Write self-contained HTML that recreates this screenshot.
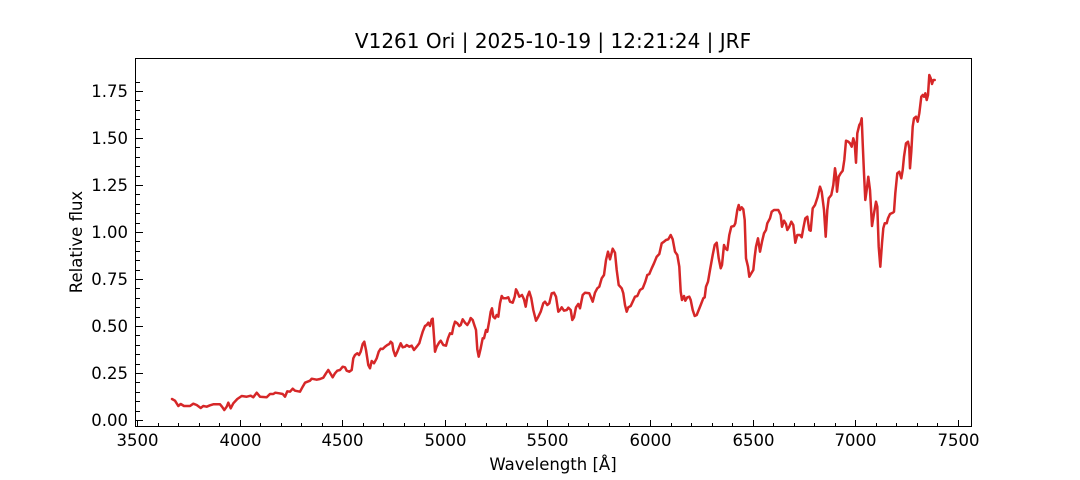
<!DOCTYPE html>
<html><head><meta charset="utf-8"><style>
html,body{margin:0;padding:0;background:#fff;}
svg{display:block;font-family:"DejaVu Sans","Liberation Sans",sans-serif;}
</style></head><body>
<svg id="s" width="1080" height="480" viewBox="0 0 1080 480" xmlns="http://www.w3.org/2000/svg">
<rect width="1080" height="480" fill="#fff"/>
<text x="553" y="48" font-size="20" text-anchor="middle" fill="#000">V1261 Ori | 2025-10-19 | 12:21:24 | JRF</text>
<g id="ticks" stroke="#000" stroke-width="1"></g>
<g id="labels" font-size="16.5" fill="#000"></g>
<text x="553" y="470" font-size="16.5" text-anchor="middle">Wavelength [Å]</text>
<text transform="translate(82,242) rotate(-90)" font-size="16.5" text-anchor="middle">Relative flux</text>
<polyline id="line" fill="none" stroke="#d62728" stroke-width="2.5" stroke-linejoin="round" stroke-linecap="round" points=""/>
<rect x="135.5" y="58.5" width="836" height="368" fill="none" stroke="#000" stroke-width="1"/>
</svg>
<script>
const z1=[[36,447],[45,452],[55,468],[62,462],[72,468],[90,468],[100,461],[110,465],[122,474],[130,468],[140,470],[150,466],[160,463],[180,463],[186,470],[193,480],[200,470],[205,458],[212,475],[220,460],[232,447],[245,438],[260,440],[272,437],[280,442],[290,428],[300,440],[320,442],[330,432],[340,432],[346,428],[358,430],[368,432],[375,440],[382,424],[390,425],[398,416],[405,422],[420,425],[428,410],[435,398],[450,392],[455,386],[470,389],[480,387],[490,383],[498,370],[505,360],[512,372],[518,382],[525,370],[532,362],[540,360],[548,350],[555,352],[560,362],[568,365],[575,360],[580,325],[585,315],[592,310],[597,315],[602,305],[608,282],[613,275],[618,300],[625,345],[630,355],[635,333],[642,340],[650,325],[656,305],[662,296],[668,297],[675,290],[682,285],[688,282],[692,275],[697,280],[700,300],[706,318],[712,305],[718,290],[722,280],[728,292],[735,290],[740,285],[748,290],[755,287],[762,300],[770,290],[778,280],[782,265],[788,245],[795,228],[800,225],[805,218],[810,228],[815,208],[818,206],[822,260],[825,305],[830,290],[838,277],[842,272],[850,285],[858,287],[864,265],[870,250],[876,252],[880,232],[885,215],[892,220],[898,228],[902,225],[908,208],[915,218],[922,225],[928,215],[932,204],[938,210],[943,225],[948,240],[952,298],[956,320],[962,295],[968,265],[972,265],[978,240],[982,245],[988,212],[992,185],[996,175],[1000,200],[1005,205],[1010,195],[1015,200],[1020,160],[1025,138],[1030,145],[1038,145],[1045,142],[1050,155],[1058,158],[1064,140],[1068,118],[1072,125],[1078,140],[1086,135],[1092,148],[1097,170],[1102,140],[1108,125],[1114,145],[1120,180],[1128,212],[1135,200],[1142,185],[1150,160],[1155,155],[1162,165],[1168,160],[1175,130],[1182,128],[1188,140],[1195,185],[1200,180]];
const z2=[[65,382],[72,392],[80,390],[85,383],[92,390],[97,420],[102,412],[108,382],[115,372],[120,385],[128,345],[135,338],[148,340],[158,365],[165,338],[172,325],[178,320],[185,295],[192,285],[198,240],[204,215],[210,238],[218,206],[225,218],[230,270],[236,315],[245,325],[250,340],[255,375],[260,395],[265,382],[272,378],[278,365],[285,350],[292,348],[300,330],[308,325],[316,305],[322,285],[328,282],[335,265],[342,250],[350,230],[358,222],[365,190],[372,185],[378,180],[385,178],[392,165],[398,178],[405,215],[412,225],[418,260],[422,335],[426,360],[432,348],[436,362],[442,352],[448,350],[452,360],[458,390],[464,408],[470,405],[476,390],[482,375],[490,355],[494,352],[498,320],[504,305],[510,270],[518,225],[524,195],[530,188],[536,235],[542,265],[546,255],[552,195],[556,205],[562,210],[568,165],[574,140],[582,138],[586,130],[592,90],[596,75],[600,90],[605,82],[610,88],[614,120],[618,235],[624,260],[628,290],[634,280],[640,270],[644,230],[648,200],[654,175],[660,215],[666,185],[672,160],[678,150],[682,130],[690,115]];
const z3=[[65,455],[72,450],[85,450],[92,465],[96,500],[102,482],[108,492],[112,510],[118,500],[124,485],[130,495],[136,548],[142,525],[150,525],[155,532],[160,505],[166,475],[172,470],[178,510],[182,512],[188,445],[195,435],[203,410],[210,380],[215,395],[222,450],[227,530],[232,450],[236,415],[244,405],[250,375],[255,325],[258,345],[261,395],[266,350],[272,340],[278,332],[283,300],[288,242],[295,245],[300,250],[305,260],[310,235],[314,250],[318,308],[322,220],[328,195],[332,188],[335,175],[338,250],[342,340],[346,420],[350,390],[355,350],[360,390],[366,498],[372,460],[378,425],[382,440],[386,560],[391,620],[396,550],[400,505],[404,490],[410,490],[414,475],[420,462],[428,458],[432,455],[436,400],[442,340],[448,335],[454,355],[458,330],[462,290],[468,250],[474,245],[478,265],[480,325],[484,275],[488,200],[492,175],[498,170],[503,185],[508,160],[514,110],[518,105],[522,110],[526,100],[530,120],[534,105],[538,45],[542,55],[546,72],[550,60],[554,60]];
let pts=[];
z1.forEach(p=>pts.push([160+p[0]/3,250+p[1]/3]));
z2.forEach(p=>pts.push([540+p[0]/3,180+p[1]/3]));
z3.forEach(p=>pts.push([750+p[0]/3,60+p[1]/3]));
document.getElementById('line').setAttribute('points',pts.map(p=>p[0].toFixed(1)+','+p[1].toFixed(1)).join(' '));
const NS='http://www.w3.org/2000/svg';
const T=document.getElementById('ticks'),L=document.getElementById('labels');
function ln(x1,y1,x2,y2){const l=document.createElementNS(NS,'line');l.setAttribute('x1',x1);l.setAttribute('y1',y1);l.setAttribute('x2',x2);l.setAttribute('y2',y2);T.appendChild(l);}
function tx(x,y,s,a){const t=document.createElementNS(NS,'text');t.setAttribute('x',x);t.setAttribute('y',y);t.setAttribute('text-anchor',a);t.textContent=s;L.appendChild(t);}
const xp=w=>137+(w-3500)*102.6/500;
for(let w=3500;w<=7500;w+=100){const x=Math.round(xp(w))+0.5;if(w%500==0){ln(x,427,x,420);tx(x,446,String(w),'middle');}else ln(x,427,x,423);}
const yp=v=>420-v*188;
for(let i=0;i<=36;i++){const v=i*0.05;const y=Math.round(yp(v))+0.5;if(y<59)continue;if(i%5==0){ln(136,y,143,y);tx(128,y+5.5,v.toFixed(2),'end');}else ln(136,y,140,y);}
</script>
</body></html>
